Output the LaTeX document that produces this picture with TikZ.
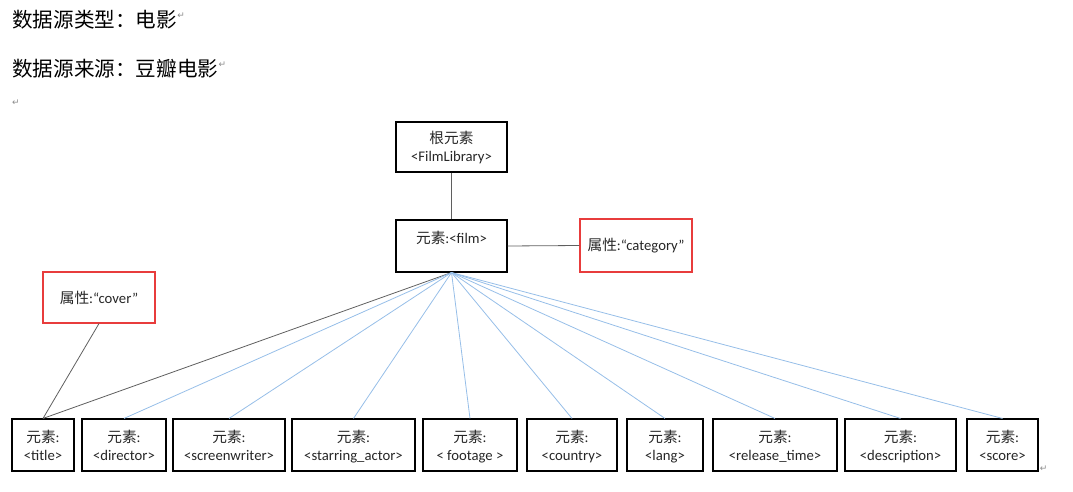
\documentclass[tikz,border=0pt]{standalone}
\usepackage{fontspec}
\setmainfont{Carlito}
\newfontfamily\cjk{Noto Sans CJK SC}
\newfontfamily\retfont{DejaVu Sans}
\usepackage{tikz}
\usepackage{xcolor}
\definecolor{attrred}{RGB}{232,60,60}
\definecolor{linkblue}{RGB}{150,190,232}
\definecolor{linkgray}{RGB}{95,95,95}
\definecolor{markgray}{RGB}{140,140,140}
\newcommand{\ret}{{\retfont\fontsize{9}{9}\selectfont\textcolor{markgray}{↵}}}

\begin{document}
\begin{tikzpicture}[x=1pt, y=-1pt]
                        % elem = element box, attr = attribute box (red frame)
                        \tikzstyle{every node}=[inner sep=0pt]
                        \tikzstyle{elem}=[draw=black, line width=1.1pt, minimum height=52pt, align=center,
                                font=\fontsize{14.7}{18}\selectfont, text=black!85]
                        \tikzstyle{leaf}=[elem, text height=34pt, text depth=4pt]
                        \tikzstyle{attr}=[elem, draw=attrred]
                        \tikzstyle{head}=[anchor=west, font=\cjk\fontsize{20.6}{24}\selectfont]
                        \tikzstyle{every edge}=[draw, linkblue, line width=0.8pt]
                        \tikzstyle{tie}=[linkgray, line width=0.8pt]
                        \useasboundingbox (0,0) rectangle (1073,492);

                        \node[head] (kind) at (12,20) {数据源类型：电影};
                        \node[anchor=west] (kindret) at ([yshift=4pt]kind.east) {\ret};
                        \node[head] (source) at (12,69) {数据源来源：豆瓣电影};
                        \node[anchor=west] (sourceret) at ([yshift=4pt]source.east) {\ret};
                        \node[anchor=west] (blankret) at (12,103) {\ret};

                        \node[elem, minimum width=111pt, minimum height=50pt, text height=33pt,
                                text depth=4pt] (root) at (451.5,147) {{\cjk 根元素}\\<FilmLibrary>};
                        \node[elem, minimum width=111pt, text height=10pt, text depth=16pt] (film)
                                at (451.5,246) {{\cjk 元素}:<film>};
                        \node[attr, minimum width=112pt, minimum height=53pt] (category) at (636,245.5)
                                {{\cjk 属性}:“category”};
                        \node[attr, minimum width=112pt, minimum height=51pt] (cover) at (99,297.5)
                                {{\cjk 属性}:“cover”};

                        \node[leaf, minimum width=62pt] (title) at (43,445) {{\cjk 元素}:\\<title>};
                        \node[leaf, minimum width=84pt] (director) at (124,445) {{\cjk 元素}:\\<director>};
                        \node[leaf, minimum width=112pt] (screenwriter) at (229,445)
                                {{\cjk 元素}:\\<screenwriter>};
                        \node[leaf, minimum width=123pt] (starring) at (353.5,445)
                                {{\cjk 元素}:\\<starring\_actor>};
                        \node[leaf, minimum width=94pt] (footage) at (470,445) {{\cjk 元素}:\\< footage >};
                        \node[leaf, minimum width=90pt] (country) at (572,445) {{\cjk 元素}:\\<country>};
                        \node[leaf, minimum width=76pt] (lang) at (665,445) {{\cjk 元素}:\\<lang>};
                        \node[leaf, minimum width=124pt] (release) at (775,445)
                                {{\cjk 元素}:\\<release\_time>};
                        \node[leaf, minimum width=111pt] (description) at (900.5,445)
                                {{\cjk 元素}:\\<description>};
                        \node[leaf, minimum width=71pt] (score) at (1002.5,445) {{\cjk 元素}:\\<score>};
                        \node[anchor=south west] (scoreret) at ([xshift=1pt]score.south east) {\ret};

                        \draw[tie] (root.south) -- (film.north);
                        \draw[tie] (film.east) -- (category.west);
                        \draw[tie] (cover.south) -- (title.north);
                        \draw[tie] (film.south) -- (title.north);
                        \draw (film.south) edge (director.north) edge (screenwriter.north)
                                edge (starring.north) edge (footage.north) edge (country.north)
                                edge (lang.north) edge (release.north) edge (description.north)
                                edge (score.north);

                \end{tikzpicture}
\end{document}
